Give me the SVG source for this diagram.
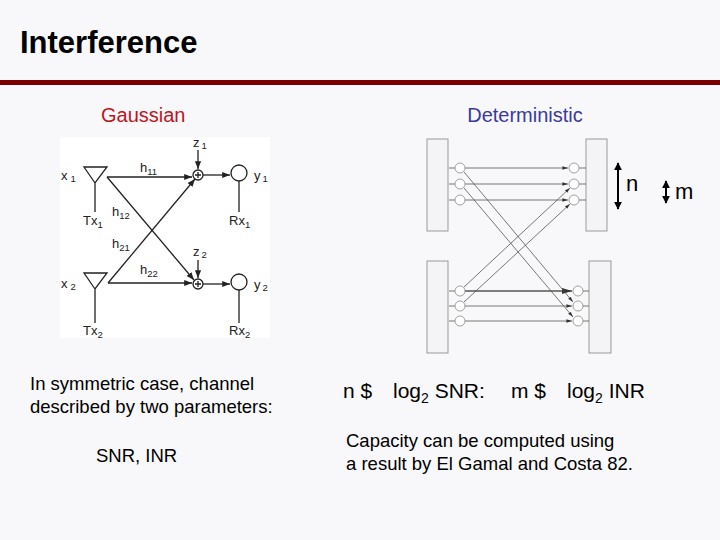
<svg xmlns="http://www.w3.org/2000/svg" width="720" height="540" viewBox="0 0 720 540">
<style>
text{font-family:"Liberation Sans",Arial,sans-serif;fill:#000}
.t{font-size:18.5px}
.s{font-size:13px;fill:#222}
.sub{font-size:9.5px;fill:#222}
.g{stroke:#222;stroke-width:1.3;fill:none}
.d{stroke:#555;stroke-width:0.8;fill:none}
.box{stroke:#999;stroke-width:1;fill:#f4f4f6}
.f{font-size:21px}
.f2{font-size:14px}
</style>
<defs>
<marker id="a" viewBox="0 0 10 10" refX="10" refY="5" markerWidth="6" markerHeight="6" orient="auto"><path d="M0,1 L10,5 L0,9 z" fill="#222"/></marker>
<marker id="b" viewBox="0 0 10 10" refX="10" refY="5" markerWidth="7" markerHeight="7" orient="auto"><path d="M0,2 L10,5 L0,8 z" fill="#333"/></marker>
<marker id="h" viewBox="0 0 10 10" refX="9" refY="5" markerWidth="4" markerHeight="4" orient="auto-start-reverse"><path d="M0,0 L10,5 L0,10 z" fill="#000"/></marker>
</defs>
<rect width="720" height="540" fill="#f8f8fa"/>
<text x="20" y="53" style="font-size:31px;font-weight:bold">Interference</text>
<rect x="0" y="80" width="720" height="5" fill="#7a0000"/>
<text x="101" y="122" class="t" style="fill:#c0141e;font-size:20px">Gaussian</text>
<text x="525" y="122" class="t" text-anchor="middle" style="fill:#3a3aa0;font-size:20px">Deterministic</text>

<g id="gaussian">
<rect x="60" y="137" width="210" height="201" fill="#fff"/>
<g id="tx1"><path class="g" d="M84,167 L107,167 L95,183 Z M95,183 V212"/><text x="61" y="180" class="s">x<tspan class="sub" dx="3" dy="2">1</tspan></text><text x="83" y="225" class="s">Tx<tspan class="sub" dy="3">1</tspan></text></g>
<g id="tx2"><path class="g" d="M84,273 L107,273 L95,289 Z M95,289 V323"/><text x="61" y="288" class="s">x<tspan class="sub" dx="3" dy="2">2</tspan></text><text x="83" y="335" class="s">Tx<tspan class="sub" dy="3">2</tspan></text></g>
<g id="plus1"><circle cx="198" cy="175" r="5" class="g"/><path class="g" d="M195,175h6M198,172v6"/><text x="193" y="147" class="s">z<tspan class="sub" dx="2" dy="2">1</tspan></text></g>
<g id="plus2"><circle cx="198" cy="284" r="5" class="g"/><path class="g" d="M195,284h6M198,281v6"/><text x="193" y="256" class="s">z<tspan class="sub" dx="2" dy="2">2</tspan></text></g>
<g id="rx1"><circle cx="239" cy="173" r="8" class="g"/><path class="g" d="M239,181V212"/><text x="254" y="180" class="s">y<tspan class="sub" dx="2" dy="2">1</tspan></text><text x="229" y="225" class="s">Rx<tspan class="sub" dy="3">1</tspan></text></g>
<g id="rx2"><circle cx="239" cy="282" r="8" class="g"/><path class="g" d="M239,290V323"/><text x="254" y="289" class="s">y<tspan class="sub" dx="2" dy="2">2</tspan></text><text x="229" y="335" class="s">Rx<tspan class="sub" dy="3">2</tspan></text></g>
<g id="gedges">
<path class="g" d="M107,177H192" stroke="#666" marker-end="url(#a)"/>
<path class="g" d="M108,283H192" marker-end="url(#a)"/>
<path class="g" d="M107,177L194,280" marker-end="url(#a)"/>
<path class="g" d="M108,283L195,179" marker-end="url(#a)"/>
<path class="g" d="M198,150V169" marker-end="url(#a)"/>
<path class="g" d="M198,260V278" marker-end="url(#a)"/>
<path class="g" d="M203,175H230" marker-end="url(#a)"/>
<path class="g" d="M203,284H230" marker-end="url(#a)"/>
</g>
<text x="140" y="172" class="s">h<tspan class="sub" dy="3">11</tspan></text>
<text x="112" y="216" class="s">h<tspan class="sub" dy="3">12</tspan></text>
<text x="112" y="248" class="s">h<tspan class="sub" dy="3">21</tspan></text>
<text x="140" y="274" class="s">h<tspan class="sub" dy="3">22</tspan></text>
</g>

<g id="deterministic">
<rect class="box" x="427" y="139" width="21" height="92"/>
<rect class="box" x="586" y="139" width="21" height="92"/>
<rect class="box" x="427" y="261" width="21" height="92"/>
<rect class="box" x="589" y="261" width="22" height="92"/>
<g id="dedges">
<path class="d" d="M449,168h6M449,184h6M449,200h6M449,291h6M449,306h6M449,321h6"/>
<path class="d" d="M579,168h7M579,184h7M579,200h7M583,291h6M583,306h6M583,321h6"/>
<path class="d" d="M465,168H568" marker-end="url(#b)"/>
<path class="d" d="M465,184H568" marker-end="url(#b)"/>
<path class="d" d="M465,200H568" marker-end="url(#b)"/>
<path class="d" d="M465,291H572" marker-end="url(#b)" style="stroke-width:1.5"/>
<path class="d" d="M465,306H572" marker-end="url(#b)"/>
<path class="d" d="M465,321H572" marker-end="url(#b)"/>
<path class="d" d="M464,172L573,302" marker-end="url(#b)"/>
<path class="d" d="M464,188L573,317" marker-end="url(#b)"/>
<path class="d" d="M464,287L570,188" marker-end="url(#b)"/>
<path class="d" d="M464,302L570,204" marker-end="url(#b)"/>
</g>
<g fill="#fff" stroke="#888" stroke-width="0.8">
<circle cx="460" cy="168" r="5"/><circle cx="460" cy="184" r="5"/><circle cx="460" cy="200" r="5"/>
<circle cx="574" cy="168" r="5"/><circle cx="574" cy="184" r="5"/><circle cx="574" cy="200" r="5"/>
<circle cx="460" cy="291" r="5"/><circle cx="460" cy="306" r="5"/><circle cx="460" cy="321" r="5"/>
<circle cx="578" cy="291" r="5"/><circle cx="578" cy="306" r="5"/><circle cx="578" cy="321" r="5"/>
</g>
<path d="M618,163V209" stroke="#000" stroke-width="2" marker-start="url(#h)" marker-end="url(#h)"/>
<path d="M666,181V203" stroke="#000" stroke-width="2" marker-start="url(#h)" marker-end="url(#h)"/>
<text x="626" y="191" style="font-size:22px">n</text>
<text x="675" y="199" style="font-size:22px">m</text>
</g>

<text x="30" y="390" class="t">In symmetric case, channel</text>
<text x="30" y="413" class="t">described by two parameters:</text>
<text x="96" y="462" class="t">SNR, INR</text>
<text x="343" y="398" class="f">n $</text>
<text x="393" y="398" class="f">log<tspan class="f2" dy="5">2</tspan><tspan dy="-5"> SNR:</tspan></text>
<text x="511" y="398" class="f">m $</text>
<text x="567" y="398" class="f">log<tspan class="f2" dy="5">2</tspan><tspan dy="-5"> INR</tspan></text>
<text x="346" y="447" class="t">Capacity can be computed using</text>
<text x="346" y="470" class="t">a result by El Gamal and Costa 82.</text>
</svg>
